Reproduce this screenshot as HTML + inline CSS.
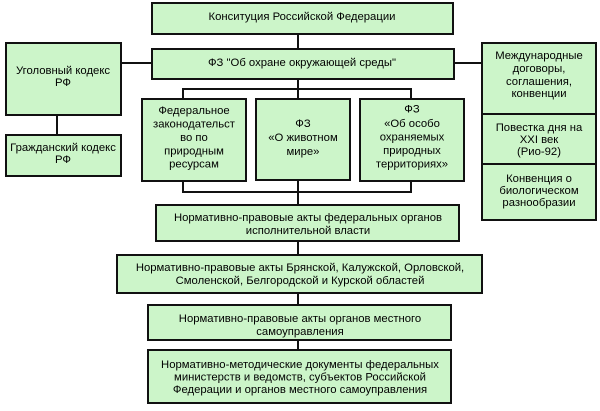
<!DOCTYPE html>
<html>
<head>
<meta charset="utf-8">
<style>
html,body{margin:0;padding:0;background:#fff;}
svg{display:block;}
text{font-family:"Liberation Sans", Arial, sans-serif;font-size:11.3px;fill:#000;text-anchor:middle;}
.b{fill:#ccf5c9;stroke:#111;stroke-width:2;}
.l{stroke:#111;stroke-width:2;fill:none;}
</style>
</head>
<body>
<svg width="600" height="411" viewBox="0 0 600 411" xmlns="http://www.w3.org/2000/svg">
<!-- connectors -->
<line class="l" x1="298" y1="34" x2="298" y2="49"/>
<line class="l" x1="121" y1="63" x2="152" y2="63"/>
<line class="l" x1="57" y1="115" x2="57" y2="135"/>
<line class="l" x1="454" y1="63" x2="482" y2="63"/>
<line class="l" x1="298" y1="79" x2="298" y2="99"/>
<polyline class="l" points="183,99 183,89 411,89 411,99"/>
<polyline class="l" points="183,181 183,192 411,192 411,181"/>
<line class="l" x1="298" y1="180" x2="298" y2="205"/>
<line class="l" x1="298" y1="241" x2="298" y2="255"/>
<line class="l" x1="298" y1="293" x2="298" y2="305"/>
<line class="l" x1="298" y1="340" x2="298" y2="350"/>

<!-- top boxes -->
<rect class="b" x="152" y="3" width="301" height="31"/>
<text x="302" y="20">Конситуция Российской Федерации</text>

<rect class="b" x="152" y="49" width="302" height="30"/>
<text x="302" y="66">ФЗ "Об охране окружающей среды"</text>

<!-- left -->
<rect class="b" x="6" y="43" width="115" height="72"/>
<text x="63" y="74">Уголовный кодекс</text>
<text x="63" y="86">РФ</text>

<rect class="b" x="6" y="135" width="115" height="41"/>
<text x="63" y="151">Гражданский кодекс</text>
<text x="63" y="163">РФ</text>

<!-- three middle -->
<rect class="b" x="142" y="99" width="104" height="82"/>
<text x="194" y="114">Федеральное</text>
<text x="194" y="127.5">законодательст</text>
<text x="194" y="141">во по</text>
<text x="194" y="154.5">природным</text>
<text x="194" y="167.5">ресурсам</text>

<rect class="b" x="256" y="99" width="94" height="81"/>
<text x="303" y="127">ФЗ</text>
<text x="303" y="141">«О животном</text>
<text x="303" y="155">мире»</text>

<rect class="b" x="360" y="99" width="104" height="82"/>
<text x="412" y="112.5">ФЗ</text>
<text x="412" y="127">«Об особо</text>
<text x="412" y="140.5">охраняемых</text>
<text x="412" y="154">природных</text>
<text x="412" y="167.5">территориях»</text>

<!-- right column -->
<rect class="b" x="482" y="43" width="114" height="177"/>
<line class="l" x1="482" y1="114" x2="596" y2="114"/>
<line class="l" x1="482" y1="164" x2="596" y2="164"/>
<text x="539" y="59">Международные</text>
<text x="539" y="72">договоры,</text>
<text x="539" y="85">соглашения,</text>
<text x="539" y="97">конвенции</text>
<text x="539" y="131">Повестка дня на</text>
<text x="539" y="143">XXI век</text>
<text x="539" y="155">(Рио-92)</text>
<text x="539" y="182">Конвенция о</text>
<text x="539" y="194">биологическом</text>
<text x="539" y="206">разнообразии</text>

<!-- bottom stack -->
<rect class="b" x="156" y="205" width="303" height="36"/>
<text x="308" y="221">Нормативно-правовые акты федеральных органов</text>
<text x="308" y="234">исполнительной власти</text>

<rect class="b" x="117" y="255" width="365" height="38"/>
<text x="300" y="271">Нормативно-правовые акты Брянской, Калужской, Орловской,</text>
<text x="300" y="284">Смоленской, Белгородской и Курской областей</text>

<rect class="b" x="148" y="305" width="303" height="35"/>
<text x="300" y="322">Нормативно-правовые акты органов местного</text>
<text x="300" y="335">самоуправления</text>

<rect class="b" x="148" y="350" width="303" height="53"/>
<text x="300" y="368">Нормативно-методические документы федеральных</text>
<text x="300" y="380.5">министерств и ведомств, субъектов Российской</text>
<text x="300" y="393">Федерации и органов местного самоуправления</text>
</svg>
</body>
</html>
